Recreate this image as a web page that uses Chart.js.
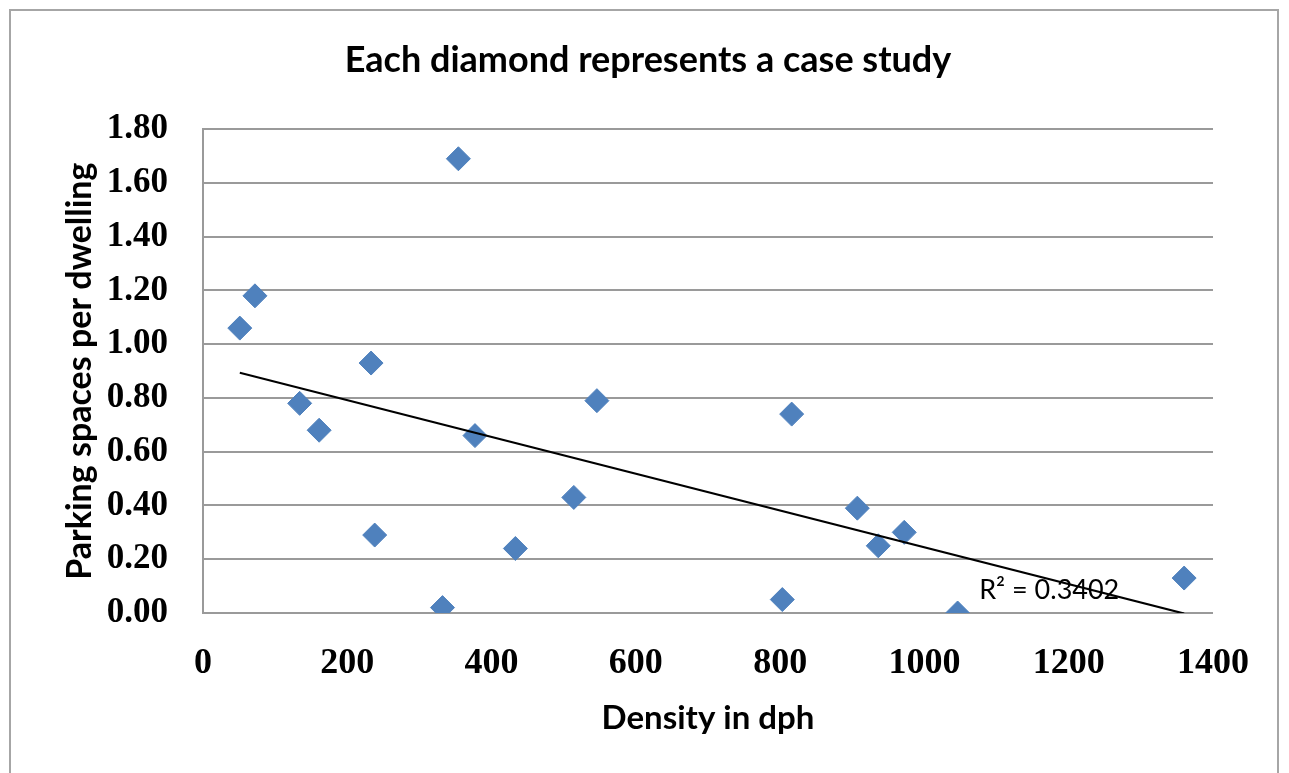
<!DOCTYPE html>
<html>
<head>
<meta charset="utf-8">
<script src="https://cdn.jsdelivr.net/npm/chart.js@4.4.1/dist/chart.umd.min.js"></script>
<style>
  html, body { margin: 0; padding: 0; background: #fff; }
  #wrap { position: relative; width: 1289px; height: 773px; overflow: hidden; }
  #frame { position: absolute; left: 9px; top: 9px; width: 1266px; height: 800px; border: 2px solid #a6a6a6; }
  canvas { position: absolute; left: 0; top: 0; }
</style>
</head>
<body>
<div id="wrap">
  <div id="frame"></div>
  <canvas id="chart" width="1289" height="773"></canvas>
</div>
<script>
// case studies: density (dph) vs parking spaces per dwelling
const density = [51, 72, 134, 161, 233, 238, 332, 354, 377, 433, 514, 546, 803, 816, 907, 936, 972, 1046, 1360];
const parking = [1.06, 1.18, 0.78, 0.68, 0.93, 0.29, 0.02, 1.69, 0.66, 0.24, 0.43, 0.79, 0.05, 0.74, 0.39, 0.25, 0.30, 0.00, 0.13];

const xTicks = [0, 200, 400, 600, 800, 1000, 1200, 1400];
const yTicks = [0, 0.2, 0.4, 0.6, 0.8, 1.0, 1.2, 1.4, 1.6, 1.8];

const r2Text = "R\u00B2 = 0.3402";
const r2At = [1173, 0.085]; // where the label sits (dph, spaces)

// linear trend line (least squares) over the points
function trend(xs, ys) {
  const n = xs.length;
  const mx = xs.reduce((a, b) => a + b, 0) / n;
  const my = ys.reduce((a, b) => a + b, 0) / n;
  let sxy = 0, sxx = 0;
  for (let i = 0; i < n; i++) {
    sxy += (xs[i] - mx) * (ys[i] - my);
    sxx += (xs[i] - mx) * (xs[i] - mx);
  }
  const slope = sxy / sxx;
  const icpt = my - slope * mx;
  const x0 = Math.min(...xs), x1 = Math.max(...xs);
  return [{ x: x0, y: icpt + slope * x0 }, { x: x1, y: icpt + slope * x1 }];
}

const points = density.map((d, i) => ({ x: d, y: parking[i] }));

const r2Label = {
  id: "r2Label",
  afterDatasetsDraw(chart) {
    const { ctx, scales } = chart;
    ctx.save();
    ctx.font = "27px Lato";
    ctx.fillStyle = "#000";
    ctx.textAlign = "center";
    ctx.textBaseline = "middle";
    ctx.fillText(r2Text, scales.x.getPixelForValue(r2At[0]), scales.y.getPixelForValue(r2At[1]));
    ctx.restore();
  },
};

new Chart(document.getElementById("chart"), {
  type: "scatter",
  data: {
    datasets: [
      {
        label: "Case studies",
        data: points,
        pointStyle: "rectRot",
        pointRadius: 12,
        backgroundColor: "#4F81BD",
        borderColor: "#4F81BD",
        borderWidth: 1,
        order: 2,
      },
      {
        type: "line",
        label: "Trend",
        data: trend(density, parking),
        borderColor: "#000",
        borderWidth: 2,
        pointRadius: 0,
        fill: false,
        order: 1,
      },
    ],
  },
  options: {
    responsive: false,
    animation: false,
    layout: { padding: { left: 83, right: 76, top: 0, bottom: 0 } },
    plugins: {
      legend: { display: false },
      tooltip: { enabled: false },
      title: {
        display: true,
        text: "Each diamond represents a case study",
        color: "#000",
        font: { family: "Lato", size: 36, weight: "bold" },
        padding: { top: 39, bottom: 47 },
      },
    },
    scales: {
      x: {
        type: "linear",
        min: 0,
        max: 1400,
        afterBuildTicks: (s) => { s.ticks = xTicks.map((v) => ({ value: v })); },
        afterFit: (s) => { s.height = 160; },
        ticks: {
          color: "#000",
          font: { family: "Liberation Serif", size: 36, weight: "bold" },
          padding: 21,
          callback: (v) => String(v),
        },
        grid: { display: false },
        border: { display: false },
        title: {
          display: true,
          text: "Density in dph",
          color: "#000",
          font: { family: "Lato", size: 33, weight: "bold" },
          padding: { top: 0, bottom: 35 },
        },
      },
      y: {
        min: 0,
        max: 1.8,
        afterBuildTicks: (s) => { s.ticks = yTicks.map((v) => ({ value: v })); },
        afterFit: (s) => { s.width = 120; },
        ticks: {
          color: "#000",
          font: { family: "Liberation Serif", size: 35, weight: "bold" },
          padding: 35,
          callback: (v) => v.toFixed(2),
        },
        grid: { color: "#9a9a9a", lineWidth: 2, drawTicks: false },
        border: { color: "#9a9a9a", width: 2 },
        title: {
          display: true,
          text: "Parking spaces per dwelling",
          color: "#000",
          font: { family: "Lato", size: 34, weight: "bold" },
          padding: { top: -23, bottom: 0 },
        },
      },
    },
  },
  plugins: [r2Label],
});
</script>
</body>
</html>
